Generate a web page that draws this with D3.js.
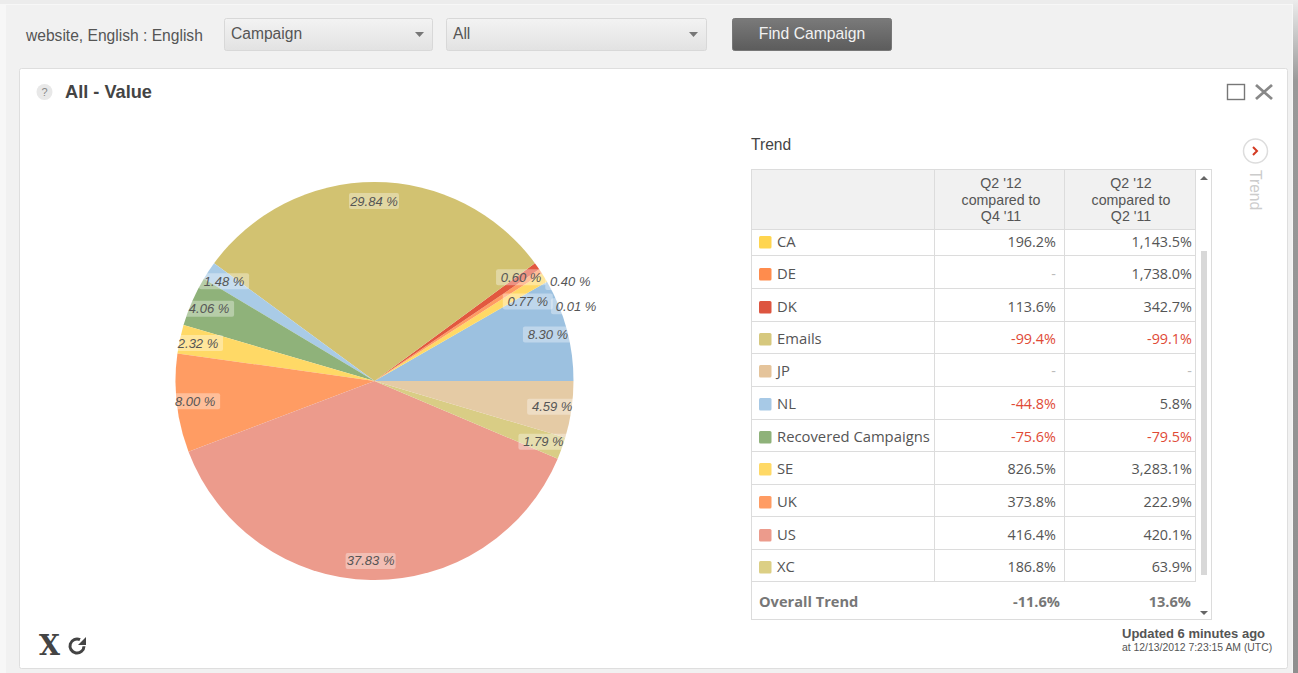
<!DOCTYPE html>
<html>
<head>
<meta charset="utf-8">
<script src="https://cdn.jsdelivr.net/npm/d3@7"></script>
<style>
  html, body { margin: 0; padding: 0; background: #fff; overflow: hidden; }
  text { font-family: "Liberation Sans", Arial, sans-serif; }
  .tbl { font-family: "Open Sans", sans-serif; }
</style>
</head>
<body>
<svg id="chart" width="1298" height="673"></svg>
<script>
// pie slices, counter clockwise from 3 o'clock
const sliceValues = [8.30, 0.01, 0.77, 0.40, 0.60, 29.84, 1.48, 4.06, 2.32, 8.00, 37.83, 1.79, 4.59];
const sliceColors = ["#9cc1e0", "#8fb27a", "#ffd966", "#ff9c63", "#e2583f", "#d2c271", "#a9cbe6", "#8fb27a", "#ffd966", "#ff9c63", "#ec9b8c", "#d9cd85", "#e5cba5"];

// trend table
const rowNames = ["CA", "DE", "DK", "Emails", "JP", "NL", "Recovered Campaigns", "SE", "UK", "US", "XC"];
const rowColors = ["#ffd54f", "#ff8c4d", "#dd5540", "#d6c87e", "#e5c49b", "#a7c9e6", "#8fb27a", "#ffd966", "#ff9c63", "#ec9b8c", "#dccf85"];
const trendQ4 = ["196.2%", "-", "113.6%", "-99.4%", "-", "-44.8%", "-75.6%", "826.5%", "373.8%", "416.4%", "186.8%"];
const trendQ2 = ["1,143.5%", "1,738.0%", "342.7%", "-99.1%", "-", "5.8%", "-79.5%", "3,283.1%", "222.9%", "420.1%", "63.9%"];
const headerQ4 = ["Q2 '12", "compared to", "Q4 '11"];
const headerQ2 = ["Q2 '12", "compared to", "Q2 '11"];
const overallTrend = ["-11.6%", "13.6%"];

// the crowded small slices have their labels pushed aside
const labelShift = { 1: [46, 15], 2: [0, 14], 3: [46, 0] };

const svg = d3.select("#chart");

const defs = svg.append("defs");
const selGrad = defs.append("linearGradient").attr("id", "selGrad").attr("x2", 0).attr("y2", 1);
selGrad.append("stop").attr("offset", 0).attr("stop-color", "#f3f3f3");
selGrad.append("stop").attr("offset", 1).attr("stop-color", "#e2e2e2");
const btnGrad = defs.append("linearGradient").attr("id", "btnGrad").attr("x2", 0).attr("y2", 1);
btnGrad.append("stop").attr("offset", 0).attr("stop-color", "#7a7a7a");
btnGrad.append("stop").attr("offset", 1).attr("stop-color", "#5c5c5c");
const edgeGrad = defs.append("linearGradient").attr("id", "edgeGrad").attr("x2", 0).attr("y2", 1);
edgeGrad.append("stop").attr("offset", 0).attr("stop-color", "#ececec");
edgeGrad.append("stop").attr("offset", 0.12).attr("stop-color", "#999");
edgeGrad.append("stop").attr("offset", 1).attr("stop-color", "#8f8f8f");

// page and panels
svg.append("rect").attr("x", 0).attr("y", 0).attr("width", 1298).attr("height", 673).attr("fill", "#f7f7f7");
svg.append("rect").attr("x", 0).attr("y", 0).attr("width", 1298).attr("height", 4).attr("fill", "#ececec");
svg.append("rect").attr("x", 1293).attr("y", 0).attr("width", 5).attr("height", 673).attr("fill", "url(#edgeGrad)");
svg.append("rect").attr("x", 6).attr("y", 5).attr("width", 1286).attr("height", 668).attr("fill", "#f1f1f1");
svg.append("rect").attr("x", 19.5).attr("y", 68.5).attr("width", 1268).attr("height", 600).attr("rx", 2)
  .attr("fill", "#fff").attr("stroke", "#dedede");

// toolbar
svg.append("text").attr("x", 26).attr("y", 41).attr("font-size", 15.6).attr("fill", "#555")
  .text("website, English : English");

function dropdown(x, w, label) {
  svg.append("rect").attr("x", x + 0.5).attr("y", 18.5).attr("width", w).attr("height", 32).attr("rx", 2)
    .attr("fill", "url(#selGrad)").attr("stroke", "#d8d8d8");
  svg.append("text").attr("x", x + 7).attr("y", 39).attr("font-size", 15.6).attr("fill", "#555").text(label);
  svg.append("path").attr("d", d3.line()([[x + w - 17, 32], [x + w - 8, 32], [x + w - 12.5, 37]])).attr("fill", "#777");
}
dropdown(224, 208, "Campaign");
dropdown(446, 260, "All");

svg.append("rect").attr("x", 732.5).attr("y", 18.5).attr("width", 159).attr("height", 32).attr("rx", 2)
  .attr("fill", "url(#btnGrad)").attr("stroke", "#777");
svg.append("text").attr("x", 812).attr("y", 39).attr("text-anchor", "middle").attr("font-size", 15.7)
  .attr("fill", "#f2f2f2").text("Find Campaign");

// panel header
svg.append("circle").attr("cx", 44.5).attr("cy", 92).attr("r", 8).attr("fill", "#e8e8e8");
svg.append("text").attr("x", 44.5).attr("y", 96).attr("text-anchor", "middle").attr("font-size", 11).attr("fill", "#888").text("?");
svg.append("text").attr("x", 65).attr("y", 98).attr("font-size", 18.2).attr("font-weight", "bold").attr("fill", "#444").text("All - Value");

svg.append("rect").attr("x", 1227.5).attr("y", 84.5).attr("width", 17).attr("height", 15).attr("fill", "none").attr("stroke", "#777").attr("stroke-width", 1.4);
svg.append("path").attr("d", "M1256,85L1272,99M1272,85L1256,99").attr("stroke", "#888").attr("stroke-width", 2.8);

// pie
const cx = 374.5, cy = 381, radius = 199, labelRadius = 180;
const pie = d3.pie().sort(null).startAngle(Math.PI / 2).endAngle(Math.PI / 2 - 2 * Math.PI);
const arcs = pie(sliceValues);
const arc = d3.arc().innerRadius(0).outerRadius(radius);
const labelArc = d3.arc().innerRadius(labelRadius).outerRadius(labelRadius);

const pieG = svg.append("g").attr("transform", `translate(${cx},${cy})`);
pieG.selectAll("path").data(arcs).enter().append("path")
  .attr("d", arc)
  .attr("fill", (d, i) => sliceColors[i]);

const labels = pieG.selectAll("g.lbl").data(arcs).enter().append("g").attr("class", "lbl")
  .attr("transform", (d, i) => {
    const c = labelArc.centroid(d);
    const s = labelShift[i] || [0, 0];
    return `translate(${c[0] + s[0] - 0.5},${c[1] + s[1]})`;
  });
labels.append("rect").attr("x", -25).attr("y", -8).attr("width", 50).attr("height", 16).attr("rx", 2)
  .attr("fill", "#fff").attr("fill-opacity", 0.35);
labels.append("text").attr("text-anchor", "middle").attr("y", 4.5)
  .attr("font-size", 13).attr("font-style", "italic").attr("fill", "#555")
  .text(d => d.value.toFixed(2) + " %");

// trend table
const colX = [751, 934, 1064, 1195];
const rowLines = [230, 256, 289, 321.5, 354, 387, 419.5, 452, 484.5, 517, 550, 582];
const gridColor = "#dcdcdc";
const tableTop = 169, tableBottom = 619, tableRight = 1211;

svg.append("text").attr("x", 751).attr("y", 150).attr("font-size", 15.6).attr("fill", "#444").text("Trend");
svg.append("rect").attr("x", colX[0] + 0.5).attr("y", tableTop + 0.5).attr("width", tableRight - colX[0]).attr("height", tableBottom - tableTop)
  .attr("fill", "#fff").attr("stroke", gridColor);
svg.append("rect").attr("x", colX[0] + 1).attr("y", tableTop + 1).attr("width", colX[3] - colX[0] - 1).attr("height", rowLines[0] - tableTop - 1).attr("fill", "#f1f1f1");

svg.append("g").selectAll("line").data(rowLines).enter().append("line")
  .attr("x1", colX[0]).attr("x2", colX[3]).attr("y1", d => Math.round(d) - 0.5).attr("y2", d => Math.round(d) - 0.5)
  .attr("stroke", gridColor);
svg.append("g").selectAll("line").data(colX.slice(1)).enter().append("line")
  .attr("x1", d => d + 0.5).attr("x2", d => d + 0.5).attr("y1", tableTop).attr("y2", rowLines[rowLines.length - 1])
  .attr("stroke", gridColor);

[[headerQ4, 1001], [headerQ2, 1131]].forEach(([lines, x]) => {
  svg.append("g").selectAll("text").data(lines).enter().append("text")
    .attr("x", x).attr("y", (d, i) => 188 + i * 16.5).attr("text-anchor", "middle")
    .attr("font-size", 14.2).attr("fill", "#555").text(d => d);
});

const rows = svg.append("g").selectAll("g").data(rowNames).enter().append("g")
  .attr("transform", (d, i) => `translate(0,${[242, 274, 307, 339, 371, 404, 437, 469, 502, 535, 567][i]})`);
rows.append("rect").attr("x", 759).attr("y", -6).attr("width", 12.5).attr("height", 12.5).attr("rx", 1.5)
  .attr("fill", (d, i) => rowColors[i]);
rows.append("text").attr("class", "tbl").attr("x", 777).attr("y", 5).attr("font-size", 14.8).attr("fill", "#555").text(d => d);

const cellColor = v => v === "-" ? "#bbb" : (v[0] === "-" ? "#e04a36" : "#555");
rows.append("text").attr("class", "tbl").attr("x", 1056).attr("y", 5).attr("text-anchor", "end").attr("font-size", 14.4)
  .attr("fill", (d, i) => cellColor(trendQ4[i])).text((d, i) => trendQ4[i]);
rows.append("text").attr("class", "tbl").attr("x", 1192).attr("y", 5).attr("text-anchor", "end").attr("font-size", 14.4)
  .attr("fill", (d, i) => cellColor(trendQ2[i])).text((d, i) => trendQ2[i]);

svg.append("text").attr("class", "tbl").attr("x", 759).attr("y", 607).attr("font-size", 14.6).attr("font-weight", "bold").attr("fill", "#777").text("Overall Trend");
svg.append("text").attr("class", "tbl").attr("x", 1060).attr("y", 607).attr("text-anchor", "end").attr("font-size", 14.6).attr("font-weight", "bold").attr("fill", "#777").text(overallTrend[0]);
svg.append("text").attr("class", "tbl").attr("x", 1191).attr("y", 607).attr("text-anchor", "end").attr("font-size", 14.6).attr("font-weight", "bold").attr("fill", "#777").text(overallTrend[1]);

// scrollbar
svg.append("rect").attr("x", 1201).attr("y", 251).attr("width", 6).attr("height", 324).attr("fill", "#d8d8d8");
svg.append("path").attr("d", "M1200,180L1208,180L1204,176Z").attr("fill", "#666");
svg.append("path").attr("d", "M1200,611L1208,611L1204,615Z").attr("fill", "#666");

// trend side tab
svg.append("circle").attr("cx", 1255.5).attr("cy", 151).attr("r", 12).attr("fill", "#fff").attr("stroke", "#ddd").attr("stroke-width", 1.5);
svg.append("path").attr("d", "M1253,147L1257,151L1253,155").attr("fill", "none").attr("stroke", "#d33a22").attr("stroke-width", 2);
svg.append("text").attr("transform", "translate(1250,170) rotate(90)").attr("font-size", 15.6).attr("fill", "#ccc").text("Trend");

// footer
svg.append("text").attr("x", 1122).attr("y", 638).attr("font-size", 13).attr("font-weight", "bold").attr("fill", "#555").text("Updated 6 minutes ago");
svg.append("text").attr("x", 1122).attr("y", 651).attr("font-size", 10.4).attr("fill", "#555").text("at 12/13/2012 7:23:15 AM (UTC)");

// bottom left icons
svg.append("text").attr("x", 39).attr("y", 655).style("font-family", "DejaVu Serif").attr("font-size", 27).attr("font-weight", "bold").attr("fill", "#444").text("X");
svg.append("path").attr("d", d3.arc().innerRadius(5.5).outerRadius(8.5).startAngle(1.6).endAngle(2 * Math.PI + 0.45)()).attr("transform", "translate(77,646)").attr("fill", "#444");
svg.append("path").attr("d", "M86,637L86,645L78,645Z").attr("fill", "#444");
</script>
</body>
</html>
